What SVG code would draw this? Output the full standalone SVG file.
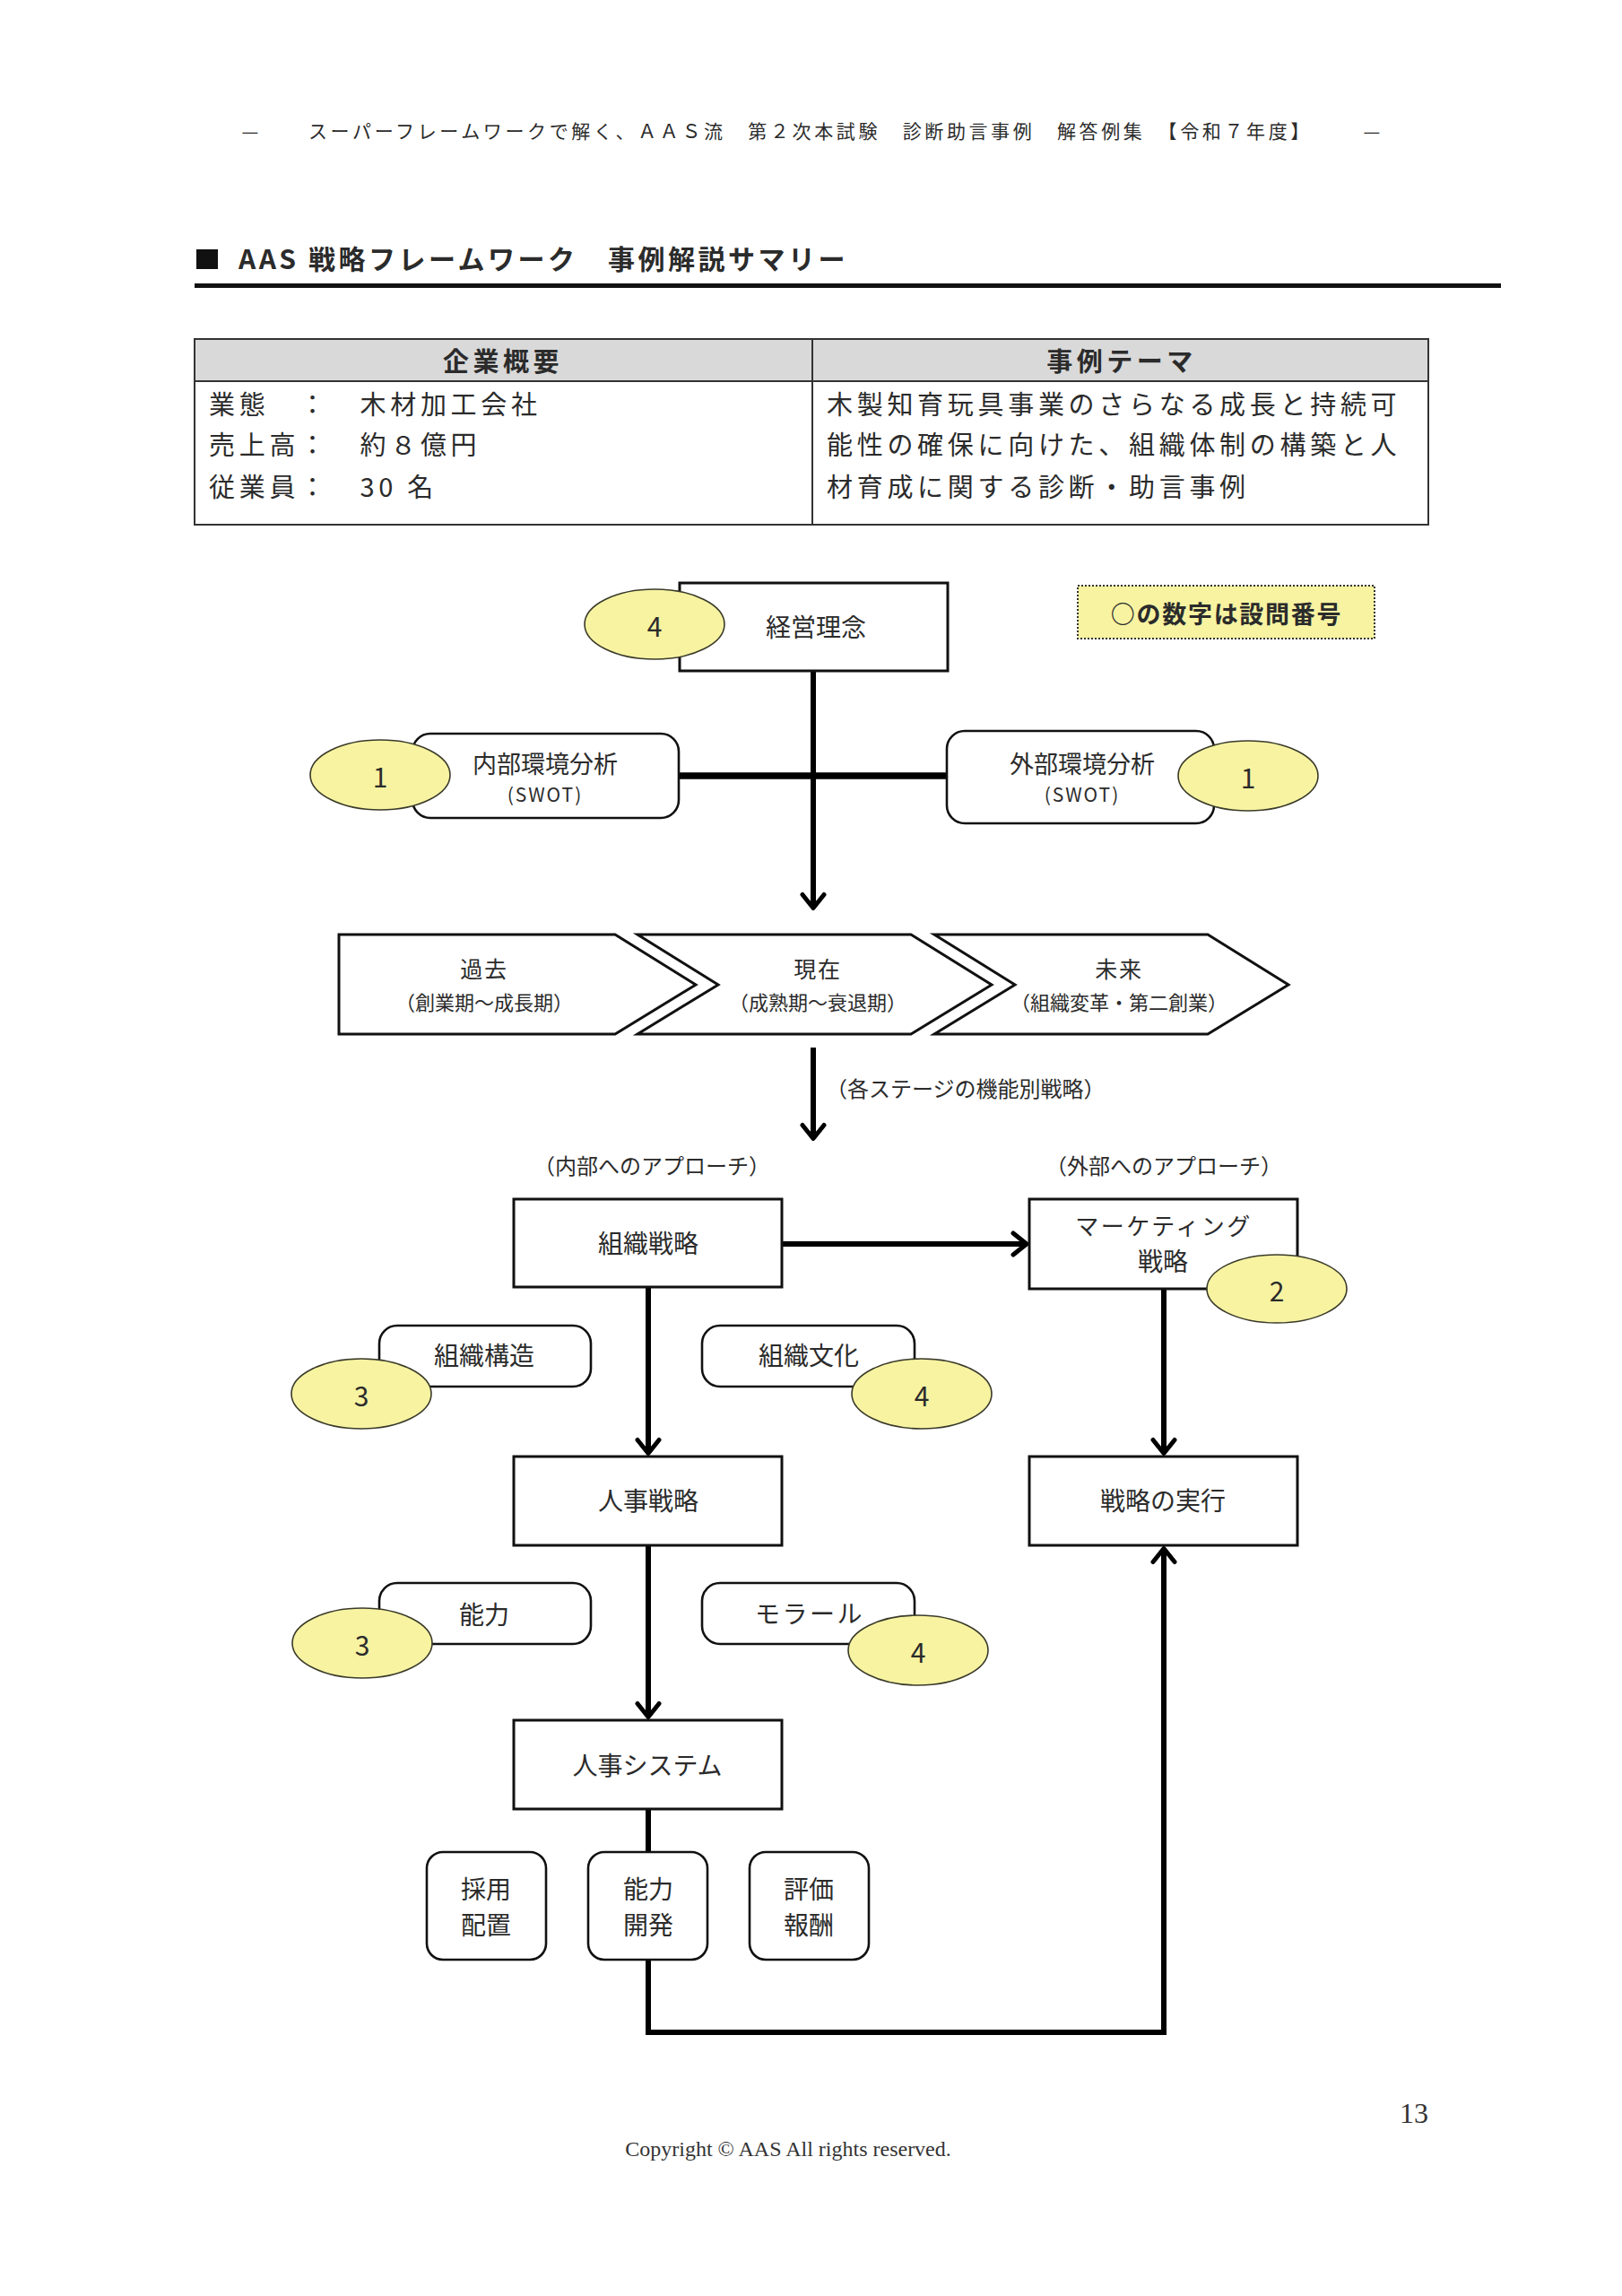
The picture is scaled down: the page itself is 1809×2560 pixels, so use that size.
<svg xmlns="http://www.w3.org/2000/svg" width="1809" height="2560" viewBox="0 0 1809 2560">
<style>
text { font-family: "Noto Sans CJK JP", "Noto Sans", sans-serif; fill: #2b2b2b; }
.c { text-anchor: middle; dominant-baseline: central; }
.m { dominant-baseline: central; }
.box { fill: #fff; stroke: #111; stroke-width: 3; }
.rbox { fill: #fff; stroke: #111; stroke-width: 2.6; }
.q { fill: #f7f3a1; stroke: #3a3a2a; stroke-width: 1.6; }
.qt { font-size: 30px; }
.lbl { font-size: 28px; }
.sub { font-size: 24px; }
.conn { fill: none; stroke: #000; stroke-width: 6; stroke-linejoin: miter; }
.thick { stroke-width: 7.5; }
.chev { fill: #fff; stroke: #111; stroke-width: 3; stroke-linejoin: miter; }
.body { font-size: 29px; letter-spacing: 4.7px; }
.serif { font-family: "Liberation Serif", "Times New Roman", serif; fill: #333; }
</style>
<defs>
<marker id="ah" viewBox="-20 -15 24 30" refX="0" refY="0" markerWidth="24" markerHeight="30" markerUnits="userSpaceOnUse" orient="auto">
<path d="M-15,-12 L0,0 L-15,12" fill="none" stroke="#000" stroke-width="5" stroke-linecap="round" stroke-linejoin="round"/>
</marker>
</defs>
<rect x="0" y="0" width="1809" height="2560" fill="#fff"/>

<g id="page-header">
<text class="c" x="279" y="145" font-size="21">—</text>
<text class="m" x="344" y="145" font-size="21" letter-spacing="3.62">スーパーフレームワークで解く、ＡＡＳ流　第２次本試験　診断助言事例　解答例集　【令和７年度】</text>
<text class="c" x="1530" y="145" font-size="21">—</text>
</g>

<g id="title">
<rect x="219" y="278" width="24" height="22" fill="#111"/>
<text class="m" x="266" y="287" font-size="30" font-weight="bold" letter-spacing="3.5" fill="#1a1a1a">AAS 戦略フレームワーク　事例解説サマリー</text>
<rect x="217" y="316" width="1457" height="5" fill="#111"/>
</g>

<g id="summary-table">
<rect x="217" y="378" width="1376" height="47" fill="#d9d9d9"/>
<rect x="217" y="378" width="1376" height="207" fill="none" stroke="#333" stroke-width="2"/>
<line x1="217" y1="425" x2="1593" y2="425" stroke="#333" stroke-width="2"/>
<line x1="906" y1="378" x2="906" y2="585" stroke="#333" stroke-width="2"/>
<text class="c" x="561" y="401" font-size="29" font-weight="bold" letter-spacing="4.5" fill="#1a1a1a">企業概要</text>
<text class="c" x="1251" y="401" font-size="29" font-weight="bold" letter-spacing="4.5" fill="#1a1a1a">事例テーマ</text>
<text class="m body" x="233" y="449">業態　：　木材加工会社</text>
<text class="m body" x="233" y="494">売上高：　約８億円</text>
<text class="m body" x="233" y="541">従業員：　30 名</text>
<text class="m body" x="922" y="449">木製知育玩具事業のさらなる成長と持続可</text>
<text class="m body" x="922" y="494">能性の確保に向けた、組織体制の構築と人</text>
<text class="m body" x="922" y="541">材育成に関する診断・助言事例</text>
</g>

<g id="connectors">
<path class="conn" d="M907,748 V1012.5" marker-end="url(#ah)"/>
<path class="conn thick" d="M757,865 H1056"/>
<path class="conn" d="M907,1168 V1269.5" marker-end="url(#ah)"/>
<path class="conn" d="M872,1387 H1145" marker-end="url(#ah)"/>
<path class="conn" d="M723,1435 V1620.5" marker-end="url(#ah)"/>
<path class="conn" d="M1298,1437 V1620.5" marker-end="url(#ah)"/>
<path class="conn" d="M723,1723 V1914.5" marker-end="url(#ah)"/>
<path class="conn" d="M723,2017 V2266 H1298 V1726.5" marker-end="url(#ah)"/>
</g>

<g id="legend">
<rect x="1202" y="653" width="331" height="59" fill="#f7f3a1" stroke="#333" stroke-width="2" stroke-dasharray="2 2"/>
<text class="c" x="1368" y="683" font-size="27" font-weight="bold" letter-spacing="1.7" fill="#1a1a1a">○の数字は設問番号</text>
</g>

<g id="node-keiei-rinen">
<rect class="box" x="758" y="650" width="299" height="98"/>
<text class="c lbl" x="910" y="698">経営理念</text>
</g>

<g id="node-naibu">
<rect class="rbox" x="460" y="818" width="297" height="94" rx="20" ry="20"/>
<text class="c" x="608" y="850" font-size="27">内部環境分析</text>
<text class="c" x="608" y="885" font-size="21" letter-spacing="2">(SWOT)</text>
</g>

<g id="node-gaibu">
<rect class="rbox" x="1056" y="815" width="298" height="103" rx="20" ry="20"/>
<text class="c" x="1207" y="850" font-size="27">外部環境分析</text>
<text class="c" x="1207" y="885" font-size="21" letter-spacing="2">(SWOT)</text>
</g>

<g id="node-kako">
<polygon class="chev" points="378,1042 686,1042 776,1098 686,1153 378,1153"/>
<text class="c" x="540" y="1079" font-size="25" letter-spacing="1.7">過去</text>
<text class="c" x="540" y="1116" font-size="22">（創業期～成長期）</text>
</g>

<g id="node-genzai">
<polygon class="chev" points="711,1042 1016,1042 1106,1098 1016,1153 711,1153 801,1098"/>
<text class="c" x="912" y="1079" font-size="25" letter-spacing="1.7">現在</text>
<text class="c" x="912" y="1116" font-size="22">（成熟期～衰退期）</text>
</g>

<g id="node-mirai">
<polygon class="chev" points="1042,1042 1347,1042 1437,1098 1347,1153 1042,1153 1132,1098"/>
<text class="c" x="1248" y="1079" font-size="25" letter-spacing="1.7">未来</text>
<text class="c" x="1248" y="1116" font-size="22">（組織変革・第二創業）</text>
</g>

<g id="labels">
<text class="m sub" x="921" y="1212">（各ステージの機能別戦略）</text>
<text class="c sub" x="727" y="1298">（内部へのアプローチ）</text>
<text class="c sub" x="1298" y="1298">（外部へのアプローチ）</text>
</g>

<g id="node-soshiki-senryaku">
<rect class="box" x="573" y="1337" width="299" height="98"/>
<text class="c lbl" x="723" y="1385">組織戦略</text>
</g>

<g id="node-marketing">
<rect class="box" x="1148" y="1337" width="299" height="100"/>
<text class="c" x="1298" y="1365" font-size="26" letter-spacing="2.5">マーケティング</text>
<text class="c lbl" x="1297" y="1405">戦略</text>
</g>

<g id="node-soshiki-kouzou">
<rect class="rbox" x="423" y="1478" width="236" height="68" rx="20" ry="20"/>
<text class="c lbl" x="540" y="1510">組織構造</text>
</g>

<g id="node-soshiki-bunka">
<rect class="rbox" x="783" y="1478" width="237" height="68" rx="20" ry="20"/>
<text class="c lbl" x="902" y="1510">組織文化</text>
</g>

<g id="node-jinji-senryaku">
<rect class="box" x="573" y="1624" width="299" height="99"/>
<text class="c lbl" x="723" y="1672">人事戦略</text>
</g>

<g id="node-jikkou">
<rect class="box" x="1148" y="1624" width="299" height="99"/>
<text class="c lbl" x="1297" y="1672">戦略の実行</text>
</g>

<g id="node-nouryoku">
<rect class="rbox" x="423" y="1765" width="236" height="68" rx="20" ry="20"/>
<text class="c lbl" x="540" y="1799">能力</text>
</g>

<g id="node-morale">
<rect class="rbox" x="783" y="1765" width="237" height="68" rx="20" ry="20"/>
<text class="c lbl" x="903" y="1798" letter-spacing="2.5">モラール</text>
</g>

<g id="node-jinji-system">
<rect class="box" x="573" y="1918" width="299" height="99"/>
<text class="c lbl" x="722" y="1967">人事システム</text>
</g>

<g id="node-saiyou">
<rect class="rbox" x="476" y="2065" width="133" height="120" rx="18" ry="18"/>
<text class="c lbl" x="542" y="2105">採用</text>
<text class="c lbl" x="542" y="2145">配置</text>
</g>

<g id="node-kaihatsu">
<rect class="rbox" x="656" y="2065" width="133" height="120" rx="18" ry="18"/>
<text class="c lbl" x="723" y="2105">能力</text>
<text class="c lbl" x="723" y="2145">開発</text>
</g>

<g id="node-hyouka">
<rect class="rbox" x="836" y="2065" width="133" height="120" rx="18" ry="18"/>
<text class="c lbl" x="902" y="2105">評価</text>
<text class="c lbl" x="902" y="2145">報酬</text>
</g>

<g id="badge-q4-rinen">
<ellipse class="q" cx="730" cy="696" rx="78" ry="39"/>
<text class="c qt" x="730" y="697">4</text>
</g>
<g id="badge-q1-naibu">
<ellipse class="q" cx="424" cy="864" rx="78" ry="39"/>
<text class="c qt" x="424" y="865">1</text>
</g>
<g id="badge-q1-gaibu">
<ellipse class="q" cx="1392" cy="865" rx="78" ry="39"/>
<text class="c qt" x="1392" y="866">1</text>
</g>
<g id="badge-q2">
<ellipse class="q" cx="1424" cy="1437" rx="78" ry="38"/>
<text class="c qt" x="1424" y="1438">2</text>
</g>
<g id="badge-q3-kouzou">
<ellipse class="q" cx="403" cy="1554" rx="78" ry="39"/>
<text class="c qt" x="403" y="1555">3</text>
</g>
<g id="badge-q4-bunka">
<ellipse class="q" cx="1028" cy="1554" rx="78" ry="39"/>
<text class="c qt" x="1028" y="1555">4</text>
</g>
<g id="badge-q3-nouryoku">
<ellipse class="q" cx="404" cy="1832" rx="78" ry="39"/>
<text class="c qt" x="404" y="1833">3</text>
</g>
<g id="badge-q4-morale">
<ellipse class="q" cx="1024" cy="1840" rx="78" ry="39"/>
<text class="c qt" x="1024" y="1841">4</text>
</g>

<g id="footer">
<text class="serif" x="1577" y="2367" font-size="32" text-anchor="middle">13</text>
<text class="serif" x="879" y="2404" font-size="24" text-anchor="middle">Copyright © AAS All rights reserved.</text>
</g>
</svg>
